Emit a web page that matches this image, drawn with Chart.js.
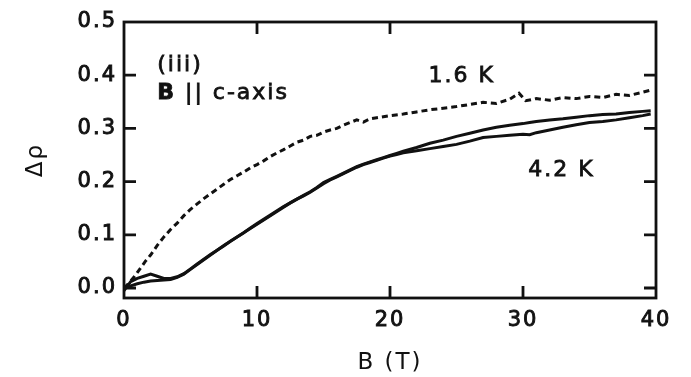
<!DOCTYPE html>
<html>
<head>
<meta charset="utf-8">
<script src="https://cdn.jsdelivr.net/npm/chart.js@4.4.1/dist/chart.umd.min.js"></script>
<style>
  html, body { margin: 0; padding: 0; background: #fff; }
  #wrap { width: 691px; height: 377px; }
</style>
</head>
<body>
<div id="wrap"><canvas id="chart" width="691" height="377"></canvas></div>
<script>
// magnetoresistance, B parallel to c-axis
var field16 = [0.0, 0.4, 0.8, 1.2, 1.6, 2.0, 2.5, 3.0, 3.5, 4.0, 4.5, 5.0, 5.5, 6.0, 6.5, 7.0, 7.5, 8.0, 8.5, 9.0,
  9.5, 10.0, 10.5, 11.0, 11.5, 12.0, 12.5, 13.0, 13.5, 14.0, 14.5, 15.0, 15.5, 16.0, 16.5, 17.0, 17.5, 18.0, 18.5, 19.0,
  20.0, 21.0, 22.0, 23.0, 24.0, 25.0, 26.0, 27.0, 28.0, 29.0, 29.7, 30.2, 31.0, 32.0, 33.0, 34.0, 35.0, 36.0, 37.0, 38.0,
  39.0, 39.6];
var rho16 = [0.000, 0.010, 0.022, 0.036, 0.050, 0.062, 0.080, 0.096, 0.110, 0.122, 0.136, 0.148, 0.158, 0.168, 0.177, 0.186, 0.195, 0.204, 0.211, 0.218,
  0.226, 0.232, 0.239, 0.247, 0.254, 0.260, 0.267, 0.274, 0.278, 0.285, 0.287, 0.293, 0.297, 0.300, 0.306, 0.311, 0.316, 0.312, 0.318, 0.320,
  0.324, 0.327, 0.331, 0.335, 0.338, 0.341, 0.345, 0.349, 0.347, 0.355, 0.366, 0.352, 0.356, 0.353, 0.358, 0.356, 0.360, 0.358, 0.364, 0.362,
  0.368, 0.372];

// 4.2 K, two sweeps
var field42 = [0.0, 0.5, 1.0, 1.5, 2.0, 2.5, 3.0, 3.5, 4.0, 4.5, 5.0, 5.5, 6.0, 6.5, 7.0, 7.5, 8.0, 8.5, 9.0, 9.5,
  10.0, 10.5, 11.0, 11.5, 12.0, 12.5, 13.0, 13.5, 14.0, 14.5, 15.0, 15.5, 16.0, 16.5, 17.0, 17.5, 18.0, 18.5, 19.0, 19.5,
  20.0, 20.5, 21.0, 22.0, 23.0, 24.0, 25.0, 26.0, 27.0, 28.0, 29.0, 30.0, 30.5, 31.0, 32.0, 33.0, 34.0, 35.0, 36.0, 37.0,
  38.0, 39.0, 39.6];
var rho42up = [-0.005, 0.012, 0.018, 0.022, 0.026, 0.022, 0.018, 0.018, 0.021, 0.027, 0.036, 0.045, 0.054, 0.063, 0.071, 0.080, 0.088, 0.096, 0.104, 0.113,
  0.121, 0.129, 0.137, 0.145, 0.153, 0.160, 0.167, 0.174, 0.181, 0.189, 0.198, 0.204, 0.210, 0.216, 0.222, 0.228, 0.233, 0.237, 0.241, 0.245,
  0.249, 0.253, 0.257, 0.264, 0.272, 0.278, 0.285, 0.291, 0.297, 0.302, 0.306, 0.309, 0.311, 0.313, 0.316, 0.318, 0.321, 0.324, 0.326, 0.327,
  0.330, 0.332, 0.333];
var rho42down = [0.000, 0.004, 0.008, 0.011, 0.013, 0.014, 0.015, 0.016, 0.020, 0.026, 0.035, 0.044, 0.053, 0.062, 0.071, 0.079, 0.088, 0.096, 0.104, 0.112,
  0.120, 0.128, 0.136, 0.144, 0.152, 0.160, 0.167, 0.173, 0.180, 0.188, 0.196, 0.203, 0.209, 0.215, 0.221, 0.227, 0.232, 0.236, 0.240, 0.244,
  0.248, 0.251, 0.254, 0.258, 0.262, 0.266, 0.270, 0.276, 0.283, 0.285, 0.287, 0.289, 0.288, 0.292, 0.297, 0.302, 0.307, 0.311, 0.313, 0.316,
  0.320, 0.324, 0.327];

var xTicks = [0, 10, 20, 30, 40];
var yTicks = [0.0, 0.1, 0.2, 0.3, 0.4, 0.5];

function pts(xs, ys) {
  return xs.map(function (x, i) { return { x: x, y: ys[i] }; });
}

var FONT = '"DejaVu Sans", "Liberation Sans", Arial, sans-serif';
var INK = '#111';

// text with a thin outline so it reads as heavy as the printed labels
function heavyText(ctx, str, x, y) {
  ctx.fillText(str, x, y);
  ctx.strokeText(str, x, y);
}

// frame with inward ticks on all four sides
var framePlugin = {
  id: 'frame',
  beforeUpdate: function (chart) { chart.ctx.letterSpacing = '2px'; },
  beforeDraw: function (chart) {
    var ctx = chart.ctx;
    ctx.letterSpacing = '2px';
    ctx.save();
    ctx.fillStyle = '#fff';
    ctx.fillRect(0, 0, chart.width, chart.height);
    ctx.restore();
  },
  afterDatasetsDraw: function (chart) {
    var ctx = chart.ctx, a = chart.chartArea;
    var xs = chart.scales.x, ys = chart.scales.y;
    var len = 12;
    ctx.save();
    ctx.strokeStyle = INK;
    ctx.lineWidth = 2.8;
    ctx.strokeRect(a.left, a.top, a.right - a.left, a.bottom - a.top);
    ctx.beginPath();
    xTicks.slice(1, -1).forEach(function (v) {
      var px = xs.getPixelForValue(v);
      ctx.moveTo(px, a.bottom); ctx.lineTo(px, a.bottom - len);
      ctx.moveTo(px, a.top); ctx.lineTo(px, a.top + len);
    });
    yTicks.slice(0, -1).forEach(function (v) {
      var py = ys.getPixelForValue(v);
      ctx.moveTo(a.left, py); ctx.lineTo(a.left + len, py);
      ctx.moveTo(a.right, py); ctx.lineTo(a.right - len, py);
    });
    ctx.stroke();
    ctx.restore();
  },
  afterDraw: function (chart) {
    var ctx = chart.ctx;
    var xs = chart.scales.x, ys = chart.scales.y;
    ctx.save();
    ctx.fillStyle = INK;
    ctx.strokeStyle = INK;
    ctx.lineWidth = 0.8;
    ctx.textBaseline = 'middle';
    ctx.textAlign = 'left';
    ctx.letterSpacing = '2px';
    ctx.font = '22px ' + FONT;
    heavyText(ctx, '(iii)', xs.getPixelForValue(2.5), ys.getPixelForValue(0.418));
    var bx = xs.getPixelForValue(2.5), by = ys.getPixelForValue(0.366);
    ctx.font = 'bold 22px ' + FONT;
    heavyText(ctx, 'B', bx, by);
    var w = ctx.measureText('B').width;
    ctx.font = '22px ' + FONT;
    heavyText(ctx, ' || c-axis', bx + w, by);
    heavyText(ctx, '1.6 K', xs.getPixelForValue(22.9), ys.getPixelForValue(0.398));
    heavyText(ctx, '4.2 K', xs.getPixelForValue(30.4), ys.getPixelForValue(0.221));
    ctx.restore();
  }
};

new Chart(document.getElementById('chart'), {
  type: 'line',
  data: {
    datasets: [
      { label: '1.6 K', data: pts(field16, rho16), borderColor: INK, borderWidth: 3, borderDash: [6, 4] },
      { label: '4.2 K', data: pts(field42, rho42up), borderColor: INK, borderWidth: 3 },
      { label: '4.2 K', data: pts(field42, rho42down), borderColor: INK, borderWidth: 3 }
    ]
  },
  options: {
    responsive: false,
    devicePixelRatio: 1,
    animation: false,
    layout: { padding: { top: 22, right: 35, left: 0, bottom: 0 } },
    elements: { point: { radius: 0 }, line: { tension: 0, fill: false } },
    plugins: { legend: { display: false }, tooltip: { enabled: false } },
    scales: {
      x: {
        type: 'linear', min: 0, max: 40,
        afterFit: function (s) { s.height = 79; },
        grid: { display: false, drawTicks: false },
        border: { display: false },
        afterBuildTicks: function (s) { s.ticks = xTicks.map(function (v) { return { value: v }; }); },
        ticks: { color: INK, padding: 10, textStrokeColor: INK, textStrokeWidth: 0.9,
          font: { family: FONT, size: 21 } },
        title: { display: true, text: 'B (T)', color: INK, padding: { top: 0, bottom: 0 }, font: { family: FONT, size: 23 } }
      },
      y: {
        type: 'linear', min: -0.0188, max: 0.5,
        afterFit: function (s) { s.width = 124; },
        grid: { display: false, drawTicks: false },
        border: { display: false },
        afterBuildTicks: function (s) { s.ticks = yTicks.map(function (v) { return { value: v }; }); },
        ticks: { color: INK, padding: 7, textStrokeColor: INK, textStrokeWidth: 0.9,
          font: { family: FONT, size: 21 },
          callback: function (v) { return v.toFixed(1); } },
        title: { display: true, text: 'Δρ', color: INK, padding: { top: 22, bottom: 0 }, font: { family: FONT, size: 23 } }
      }
    }
  },
  plugins: [framePlugin]
});
</script>
</body>
</html>
